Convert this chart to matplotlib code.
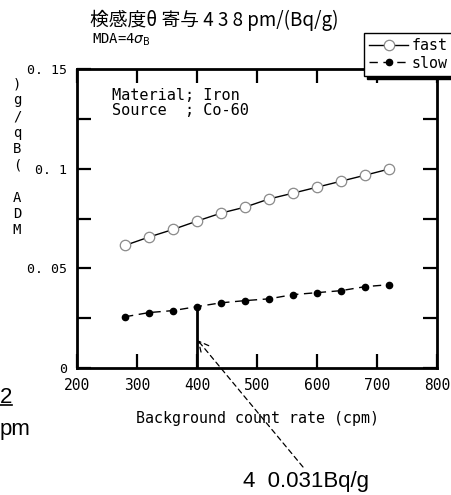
import numpy as np
import matplotlib.pyplot as plt

# background count rate (cpm)
bg_rate = [280, 320, 360, 400, 440, 480, 520, 560, 600, 640, 680, 720]
# MDA (Bq/g)
mda_fast = [0.0615, 0.0657, 0.0695, 0.0737, 0.0777, 0.0807, 0.0848, 0.0877, 0.0907, 0.0937, 0.0967, 0.0998]
mda_slow = [0.0257, 0.0278, 0.0288, 0.0308, 0.0327, 0.0338, 0.0347, 0.0368, 0.0378, 0.0388, 0.0408, 0.0418]
mark_x = 400
mark_val = 0.0308
arrow_head_y = 0.014

xticks = [200, 300, 400, 500, 600, 700, 800]
yticks = [0, 0.025, 0.05, 0.075, 0.1, 0.125, 0.15]
ytick_labels = ["0", "", "0. 05", "", "0. 1", "", "0. 15"]

mono = ["DejaVu Sans Mono", "Noto Sans CJK JP"]
plt.rcParams['font.family'] = mono

W, H = 451, 495
fig = plt.figure(figsize=(W / 100, H / 100), dpi=100)
ax = fig.add_axes([77 / W, 1 - 368 / H, 360 / W, 299 / H])

ax.plot(bg_rate, mda_fast, color="black", lw=1.0, marker="o", ms=7.5,
        mfc="white", mec="#8a8a8a", mew=0.9, label="fast", zorder=3)
ax.plot(bg_rate, mda_slow, color="black", lw=1.0, ls=(0, (6, 4)), marker="o", ms=4.5,
        mfc="black", mec="black", label="slow", zorder=3)
ax.plot([mark_x, mark_x], [0, mark_val], color="black", lw=2.0, zorder=2)

ax.set_xlim(200, 800)
ax.set_ylim(0, 0.15)
ax.set_xticks(xticks)
ax.set_xticklabels([str(v) for v in xticks], fontsize=10.5)
ax.set_yticks(yticks)
ax.set_yticklabels(ytick_labels, fontsize=9.5)
ax.tick_params(direction="in", length=10, width=1.6, top=True, right=True)
ax.tick_params(axis="x", pad=7)
ax.tick_params(axis="y", pad=7)
for s in ax.spines.values():
    s.set_linewidth(2.0)

ax.set_xlabel("Background count rate (cpm)", fontsize=10.8, labelpad=13)
fig.text(112 / W, 1 - 88 / H, "Material; Iron\nSource  ; Co-60",
         fontsize=11, va="top", ha="left", linespacing=1.0)

# y label, stacked characters
fig.text(17 / W, 1 - 157 / H, ")\ng\n/\nq\nB\n(\n \nA\nD\nM", fontsize=10,
         ha="center", va="center", linespacing=1.2)

fig.text(90 / W, 1 - 20 / H, "検感度θ 寄与 4 3 8 pm/(Bq/g)", fontsize=13.5,
         ha="left", va="center", family=["Noto Sans CJK JP", "DejaVu Sans"])
fig.text(92 / W, 1 - 40 / H, r"MDA=4$\sigma_{\rm B}$", fontsize=10, ha="left", va="center")

leg = fig.legend(loc="upper left", bbox_to_anchor=(364 / W, 1 - 33 / H), fontsize=10.8,
                 frameon=True, fancybox=False,
                 shadow={"facecolor": "black", "edgecolor": "black", "alpha": 1},
                 handlelength=2.6, handletextpad=0.2, borderpad=0.35, labelspacing=0.15,
                 borderaxespad=0)
leg.get_frame().set_edgecolor("black")
leg.get_frame().set_linewidth(1.0)
leg.get_frame().set_alpha(1)

sans = ["Liberation Sans", "DejaVu Sans"]
fig.text(243 / W, 1 - 487 / H, "4  0.031Bq/g", fontsize=16, family=sans,
         ha="left", va="baseline")
fig.text(0, 1 - 403 / H, "2", fontsize=16, family=sans, ha="left", va="baseline")
fig.add_artist(plt.Line2D([0, 12 / W], [1 - 405 / H, 1 - 405 / H], color="black", lw=1.2))
fig.text(0, 1 - 435 / H, "pm", fontsize=16, family=sans, ha="left", va="baseline")

ax.annotate("", xy=(mark_x + 1, arrow_head_y), xycoords="data",
            xytext=(303 / W, 1 - 467 / H), textcoords="figure fraction",
            arrowprops=dict(arrowstyle="->", lw=0.9, ls=(0, (4, 3)), color="black",
                            mutation_scale=18, shrinkA=0, shrinkB=0),
            annotation_clip=False)

fig.savefig("out.png", dpi=100)
